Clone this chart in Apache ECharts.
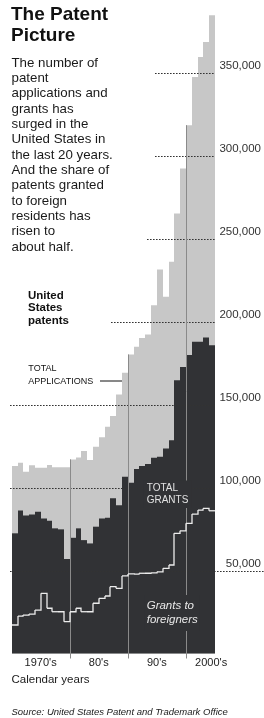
<!DOCTYPE html>
<html>
<head>
<meta charset="utf-8">
<script src="https://cdn.jsdelivr.net/npm/echarts@6/dist/echarts.min.js"></script>
<style>
  html, body { margin: 0; padding: 0; background: #fff; }
  #chart { width: 264px; height: 718px; }
</style>
</head>
<body>
<div id="chart"></div>
<script>
const years = ['1970', '1971', '1972', '1973', '1974', '1975', '1976', '1977', '1978', '1979',
  '1980', '1981', '1982', '1983', '1984', '1985', '1986', '1987', '1988', '1989',
  '1990', '1991', '1992', '1993', '1994', '1995', '1996', '1997', '1998', '1999',
  '2000', '2001', '2002', '2003', '2004'];

const applications = [113100, 115100, 109600, 113500, 112000, 112000, 113700, 112300, 112300, 112300,
  117100, 118300, 122100, 116700, 124700, 130400, 136800, 143200, 156300, 169300,
  180400, 185000, 190400, 192500, 210100, 231700, 215200, 236300, 265400, 292600,
  318700, 347800, 359900, 368900, 385000];

const grants = [72500, 86300, 83300, 83800, 85500, 81500, 80100, 75500, 74900, 57000,
  69800, 75500, 68400, 66400, 76500, 81500, 81900, 93600, 89500, 106600,
  103000, 111300, 113100, 114300, 118100, 118700, 123700, 128700, 164900, 172900,
  180000, 188000, 188000, 190700, 186000];

const foreignGrants = [17200, 22600, 23200, 23800, 26200, 36300, 27300, 25200, 25200, 19200,
  25200, 27300, 25200, 25200, 30300, 33300, 34700, 40300, 39300, 46800,
  48000, 47900, 48400, 48400, 48600, 49300, 51400, 53400, 72500, 74000,
  78500, 84100, 86500, 87500, 86100];

const yTicks = [50000, 100000, 150000, 200000, 250000, 300000, 350000];
const decadeBreaks = [10, 20, 30];
const decadeLabels = { 5: "1970's", 15: "80's", 25: "90's", 34: "2000's" };

const FONT = '"Liberation Sans", Arial, Helvetica, sans-serif';
const LIGHT = '#c7c7c7';
const DARK = '#313235';

// dotted lines start right of the text block; the 50,000 one runs under its label
const gridStart = { 350000: 155, 300000: 155, 250000: 147, 200000: 111 };

const chart = echarts.init(document.getElementById('chart'));

function bandHalf(api) {
  return api.size([1, 0])[0] / 2;
}

// step-style columns: snap both edges to whole pixels so neighbours touch
function barRenderer(color) {
  return function (params, api) {
    const i = api.value(0);
    const c = api.coord([i, api.value(1)]);
    const base = api.coord([i, 0])[1];
    const h = bandHalf(api);
    const x0 = Math.round(c[0] - h);
    const x1 = Math.round(c[0] + h);
    return {
      type: 'rect',
      shape: { x: x0, y: c[1], width: x1 - x0, height: base - c[1] },
      style: { fill: color }
    };
  };
}

function renderGridLine(params, api) {
  const v = api.value(1);
  const y = Math.round(api.coord([0, v])[1]) + 0.5;
  const x0 = gridStart[v] || 10;
  const x1 = v === 50000 ? 264 : api.coord([years.length - 1, 0])[0] + bandHalf(api);
  return {
    type: 'line',
    shape: { x1: x0, y1: y, x2: x1, y2: y },
    style: { stroke: '#333', lineWidth: 1.2, lineDash: [1.6, 1.4] }
  };
}

function renderDecade(params, api) {
  const i = api.value(0);
  const x = Math.round(api.coord([i, 0])[0] - bandHalf(api)) + 0.5;
  const top = api.coord([i, api.value(1)])[1];
  const bottom = api.coord([i, 0])[1] + 5;
  return {
    type: 'line',
    shape: { x1: x, y1: top, x2: x, y2: bottom },
    style: { stroke: '#8a8a8a', lineWidth: 1 }
  };
}

function renderForeign(params, api) {
  const i = api.value(0);
  const c = api.coord([i, api.value(1)]);
  const h = bandHalf(api);
  const yNext = api.coord([i, api.value(2)])[1];
  const x0 = Math.round(c[0] - h);
  const x1 = Math.round(c[0] + h);
  return {
    type: 'polyline',
    shape: { points: [[x0, c[1]], [x1, c[1]], [x1, yNext]] },
    style: { stroke: '#ececec', lineWidth: 1.3, fill: null }
  };
}

chart.setOption({
  animation: false,
  grid: { left: 11.7, right: 46.7, top: 7, bottom: 64.5 },
  xAxis: {
    type: 'category',
    data: years,
    axisLine: { show: false },
    axisTick: { show: false },
    axisLabel: {
      interval: 0,
      margin: 4,
      formatter: (v, i) => decadeLabels[i] ? (i === 34 ? '{b|' : '{a|') + decadeLabels[i] + '}' : '',
      rich: {
        a: { fontFamily: FONT, fontSize: 11, color: '#222', padding: [0, 6, 0, 0] },
        b: { fontFamily: FONT, fontSize: 11, color: '#222', padding: [0, 2, 0, 0] }
      }
    }
  },
  yAxis: {
    type: 'value',
    position: 'right',
    min: 0,
    max: 390000,
    interval: 50000,
    axisLine: { show: false },
    axisTick: { show: false },
    splitLine: { show: false },
    axisLabel: {
      margin: 46,
      align: 'right',
      verticalAlign: 'bottom',
      lineHeight: 12,
      padding: [0, 0, 1, 0],
      fontFamily: FONT,
      fontSize: 11.5,
      color: '#333',
      formatter: v => (v > 0 && v % 50000 === 0) ? v.toLocaleString('en-US') : ''
    }
  },
  series: [
    {
      name: 'Total applications',
      type: 'custom',
      data: applications.map((v, i) => [i, v]),
      renderItem: barRenderer(LIGHT),
      silent: true,
      z: 1
    },
    {
      name: 'Total grants',
      type: 'custom',
      data: grants.map((v, i) => [i, v]),
      renderItem: barRenderer(DARK),
      silent: true,
      z: 2
    },
    {
      type: 'custom',
      data: yTicks.map(v => [0, v]),
      renderItem: renderGridLine,
      silent: true,
      z: 3
    },
    {
      type: 'custom',
      data: decadeBreaks.map(i => [i, Math.max(applications[i - 1], applications[i])]),
      renderItem: renderDecade,
      silent: true,
      z: 4
    },
    {
      name: 'Grants to foreigners',
      type: 'custom',
      data: foreignGrants.map((v, i) => [i, v, i < foreignGrants.length - 1 ? foreignGrants[i + 1] : v]),
      renderItem: renderForeign,
      silent: true,
      z: 5
    }
  ],
  graphic: [
    {
      type: 'text', left: 11, top: 5, z: 10,
      style: { text: 'The Patent\nPicture', font: 'bold 19px ' + FONT, lineHeight: 20.3, fill: '#111' }
    },
    {
      type: 'text', left: 11.5, top: 55.5, z: 10,
      style: {
        text: 'The number of\npatent\napplications and\ngrants has\nsurged in the\nUnited States in\nthe last 20 years.\nAnd the share of\npatents granted\nto foreign\nresidents has\nrisen to\nabout half.',
        font: '13.3px ' + FONT, lineHeight: 15.33, fill: '#1a1a1a'
      }
    },
    {
      type: 'text', left: 28, top: 289, z: 10,
      style: { text: 'United\nStates\npatents', font: 'bold 11.5px ' + FONT, lineHeight: 12.8, fill: '#111' }
    },
    {
      type: 'text', left: 28.3, top: 362.5, z: 10,
      style: { text: 'TOTAL\nAPPLICATIONS', font: '9px ' + FONT, lineHeight: 12.4, fill: '#111' }
    },
    {
      type: 'line', z: 10,
      shape: { x1: 100, y1: 381, x2: 122, y2: 381 },
      style: { stroke: '#111', lineWidth: 1 }
    },
    {
      type: 'text', left: 143.7, top: 480.5, z: 10,
      style: {
        text: 'TOTAL\nGRANTS', font: '10px ' + FONT, lineHeight: 11.7, fill: '#e2e2e2',
        backgroundColor: DARK, padding: [2, 3, 2, 3]
      }
    },
    {
      type: 'text', left: 144.7, top: 595, z: 10,
      style: {
        text: 'Grants to\nforeigners', font: 'italic 11.5px ' + FONT, lineHeight: 14, fill: '#e8e8e8',
        backgroundColor: DARK, padding: [4, 2, 4, 2]
      }
    },
    {
      type: 'text', left: 11.5, top: 673, z: 10,
      style: { text: 'Calendar years', font: '11.5px ' + FONT, lineHeight: 14, fill: '#1a1a1a' }
    },
    {
      type: 'text', left: 11.5, top: 707, z: 10,
      style: { text: 'Source: United States Patent and Trademark Office', font: 'italic 9.5px ' + FONT, lineHeight: 11, fill: '#1a1a1a' }
    }
  ]
});
</script>
</body>
</html>
